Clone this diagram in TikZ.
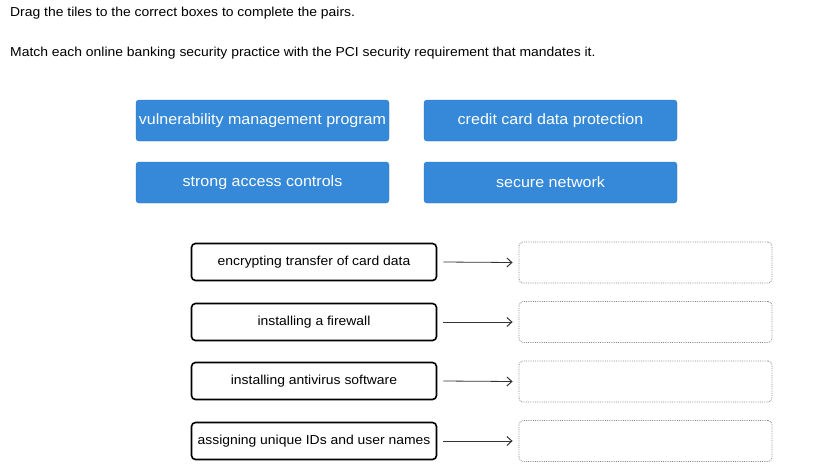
\documentclass[tikz,border=0pt]{standalone}
\usepackage{fontspec}
\setmainfont[FakeStretch=1.07]{Liberation Sans}
\usetikzlibrary{arrows.meta}
\definecolor{tileblue}{HTML}{3589D8}
\definecolor{tileedge}{HTML}{2E78C0}
\definecolor{dotgray}{HTML}{8A8A8A}
\tikzset{
  x=1pt,y=1pt,
  tile/.style={draw=tileedge,fill=tileblue,rounded corners=3pt,minimum width=253pt,minimum height=41pt,text=white,font=\fontsize{15}{18}\selectfont,inner sep=0pt},
  practice/.style={draw=black,line width=1.6pt,rounded corners=4pt,minimum width=245pt,minimum height=37pt,font=\fontsize{13}{15}\selectfont,inner sep=0pt},
  target/.style={draw=dotgray,densely dotted,line width=0.8pt,rounded corners=4pt,minimum width=253pt,minimum height=41pt,inner sep=0pt},
  conn/.style={draw=black!80,line width=0.8pt,-{Straight Barb[length=5pt,width=9pt,line width=1pt]}},
  hdr/.style={anchor=west,font=\fontsize{13}{15}\selectfont,inner sep=0pt}
}
\begin{document}
\begin{tikzpicture}
\useasboundingbox (0,0) rectangle (833,-472);
\node[hdr] (h1) at (10,-13) {Drag the tiles to the correct boxes to complete the pairs.};
\node[hdr] (h2) at (10,-53) {Match each online banking security practice with the PCI security requirement that mandates it.};

\node[tile] (t1) at (262.5,-120.5) {vulnerability management program};
\node[tile] (t2) at (550.5,-120.5) {credit card data protection};
\node[tile] (t3) at (262.5,-182.5) {strong access controls};
\node[tile] (t4) at (550.5,-182.5) {secure network};

\node[practice] (p1) at (314,-262) {encrypting transfer of card data};
\node[practice] (p2) at (314,-322) {installing a firewall};
\node[practice] (p3) at (314,-381) {installing antivirus software};
\node[practice] (p4) at (314,-441) {assigning unique IDs and user names};

\node[target] (b1) at (645.5,-262.5) {};
\node[target] (b2) at (645.5,-322) {};
\node[target] (b3) at (645.5,-381.5) {};
\node[target] (b4) at (645.5,-441) {};

\foreach \i in {1,2,3,4}{
  \draw[conn] ([xshift=6pt]p\i.east) -- ([xshift=-6pt]b\i.west);
}
\end{tikzpicture}
\end{document}
